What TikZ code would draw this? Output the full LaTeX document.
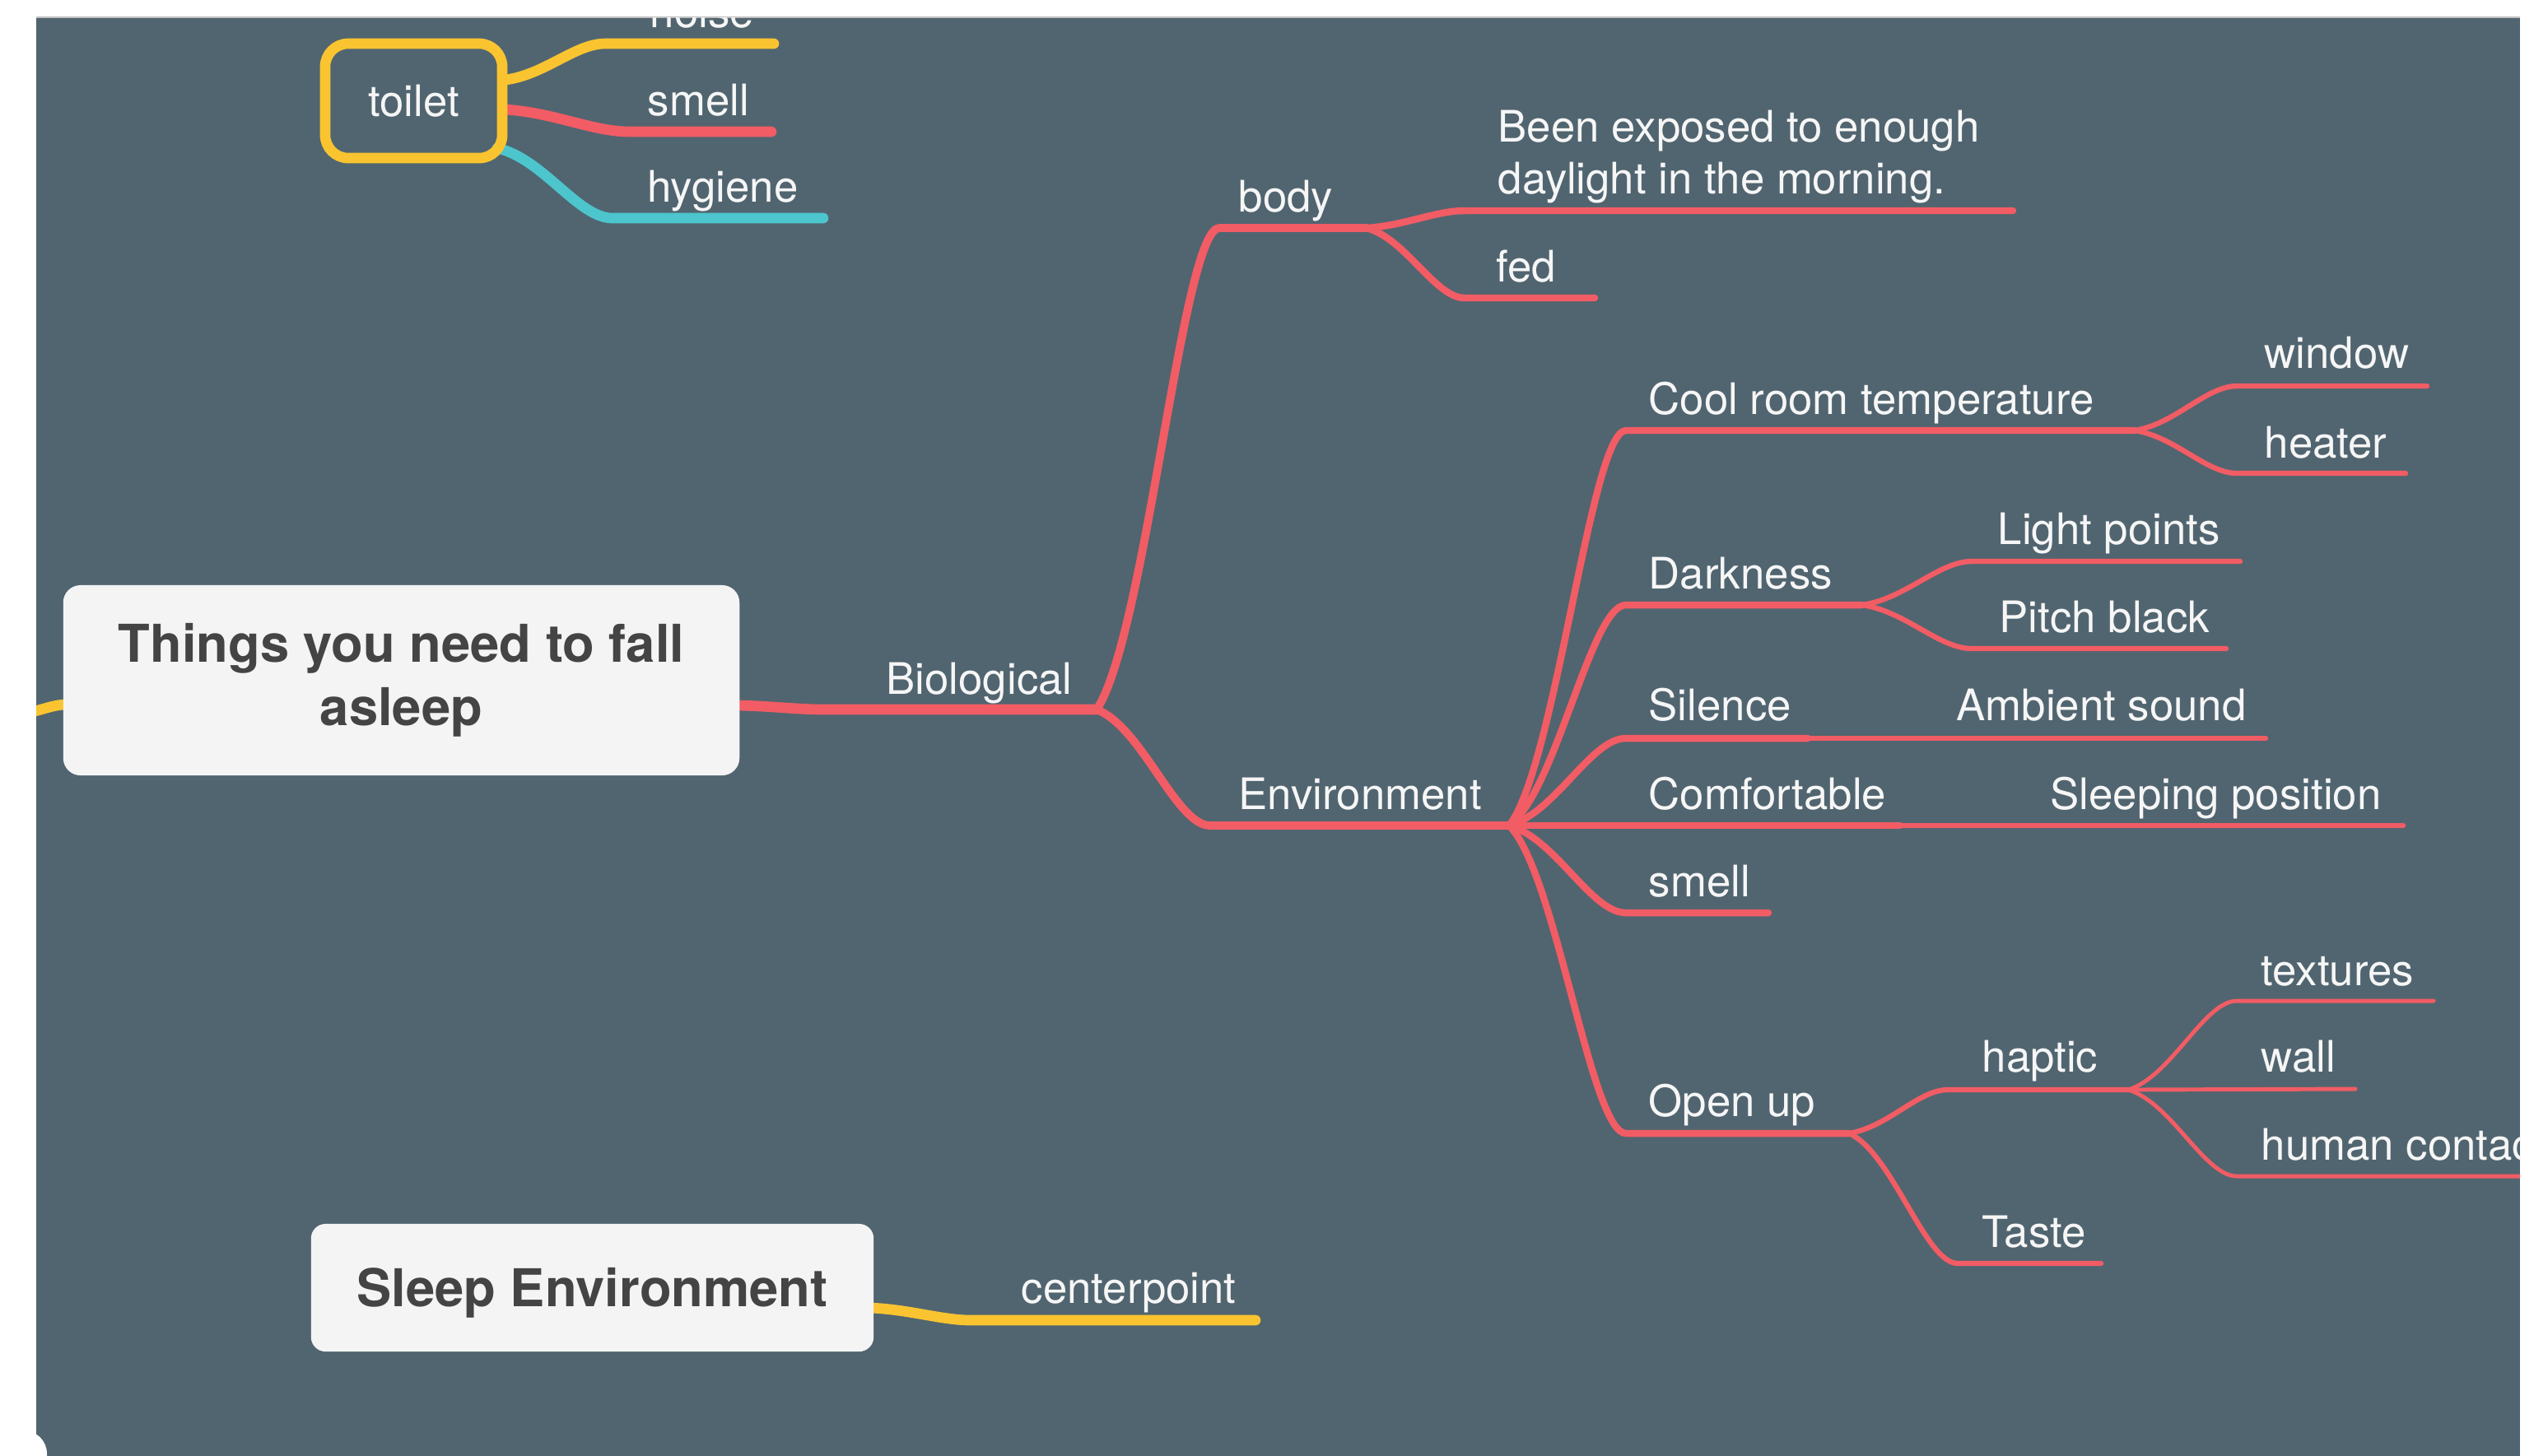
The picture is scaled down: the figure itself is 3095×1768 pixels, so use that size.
\documentclass[tikz,border=0pt]{standalone}
\usepackage{fontspec}
\setmainfont{TeX Gyre Heros}
\usetikzlibrary{calc}
\definecolor{bg}{RGB}{81,101,112}
\definecolor{mmred}{RGB}{242,92,100}
\definecolor{mmyellow}{RGB}{249,196,48}
\definecolor{mmcyan}{RGB}{76,197,205}
\definecolor{boxfill}{RGB}{244,244,244}
\definecolor{darktext}{RGB}{68,68,68}
\definecolor{lighttext}{RGB}{246,246,246}
\begin{document}
\begin{tikzpicture}[x=0.01cm,y=-0.01cm,
  lbl/.style={anchor=base west,inner sep=0pt,text=lighttext,font=\fontsize{15pt}{18pt}\selectfont},
  topic/.style={fill=boxfill,text=darktext,inner sep=0pt,font=\fontsize{18pt}{22pt}\selectfont\bfseries,align=center},
  lvA/.style={line width=3.6pt,line cap=round,line join=round},
  lvB/.style={line width=2.8pt,line cap=round,line join=round},
  lvC/.style={line width=2.4pt,line cap=round,line join=round},
  lvD/.style={line width=1.8pt,line cap=round,line join=round},
  lvE/.style={line width=1.4pt,line cap=round,line join=round},
  curvy/.style={to path={let \p1=(\tikztostart),\p2=(\tikztotarget) in .. controls ({\x1+0.4*(\x2-\x1)},{\y1+0.15*(\y2-\y1)}) and ({\x2-0.3*(\x2-\x1)},\y2) .. (\tikztotarget) \tikztonodes}}
]
\useasboundingbox (0,0) rectangle (3095,1768);
\fill[white] (0,-20) rectangle (3120,1800);
\fill[bg] (44,21) rectangle (3061,1800);
\draw[black!25,line width=0.8pt] (44,21) -- (3061,21);
\begin{scope}
\clip (44,21) rectangle (3061,1800);
% ---------- coordinates ----------
\coordinate (stubL) at (20,868);
\coordinate (mainIn) at (80,856);
\coordinate (mainOut) at (895,857);
\coordinate (bioH) at (1000,862);
\coordinate (bioJ) at (1332,862);
\coordinate (bodyH) at (1481,277);
\coordinate (bodyJ) at (1660,277);
\coordinate (dayH) at (1779,256);
\coordinate (dayE) at (2445,256);
\coordinate (fedH) at (1779,362);
\coordinate (fedE) at (1937,362);
\coordinate (envH) at (1470,1003);
\coordinate (envJ) at (1833,1003);
\coordinate (coolH) at (1975,523);
\coordinate (coolJ) at (2593,523);
\coordinate (winH) at (2717,469);
\coordinate (winE) at (2948,469);
\coordinate (heatH) at (2717,575);
\coordinate (heatE) at (2922,575);
\coordinate (darkH) at (1975,735);
\coordinate (darkJ) at (2262,735);
\coordinate (lightH) at (2395,682);
\coordinate (lightE) at (2721,682);
\coordinate (pitchH) at (2395,788);
\coordinate (pitchE) at (2704,788);
\coordinate (silH) at (1975,897);
\coordinate (silJ) at (2196,897);
\coordinate (ambE) at (2752,897);
\coordinate (comJ) at (2308,1003);
\coordinate (comE) at (2919,1003);
\coordinate (smellH) at (1975,1109);
\coordinate (smellE) at (2148,1109);
\coordinate (openH) at (1975,1377);
\coordinate (openJ) at (2246,1377);
\coordinate (hapH) at (2366,1324);
\coordinate (hapJ) at (2585,1324);
\coordinate (tasteH) at (2378,1535);
\coordinate (tasteE) at (2552,1535);
\coordinate (texH) at (2717,1216);
\coordinate (texE) at (2956,1216);
\coordinate (wallE) at (2861,1323);
\coordinate (humH) at (2717,1429);
\coordinate (humE) at (3120,1429);
\coordinate (tOutA) at (614,97);
\coordinate (noiseH) at (735,53);
\coordinate (noiseE) at (940,53);
\coordinate (tOutB) at (614,133);
\coordinate (smellTH) at (765,160);
\coordinate (smellTE) at (937,160);
\coordinate (tOutC) at (604,180);
\coordinate (hygH) at (744,265);
\coordinate (hygE) at (1000,265);
\coordinate (sleepOut) at (1058,1589);
\coordinate (cpH) at (1180,1604);
\coordinate (cpE) at (1525,1604);
% ---------- connectors ----------
\draw[lvA,mmyellow] (stubL) to[curvy] (mainIn);
\draw[lvA,mmred] (mainOut) to[curvy] (bioH) -- (bioJ);
\draw[lvB,mmred] (bioJ) to[curvy] (bodyH) -- (bodyJ);
\draw[lvB,mmred] (bioJ) to[curvy] (envH) -- (envJ);
\draw[lvC,mmred] (bodyJ) to[curvy] (dayH) -- (dayE);
\draw[lvC,mmred] (bodyJ) to[curvy] (fedH) -- (fedE);
\draw[lvC,mmred] (envJ) to[curvy] (coolH) -- (coolJ);
\draw[lvC,mmred] (envJ) to[curvy] (darkH) -- (darkJ);
\draw[lvC,mmred] (envJ) to[curvy] (silH) -- (silJ);
\draw[lvC,mmred] (envJ) -- (comJ);
\draw[lvC,mmred] (envJ) to[curvy] (smellH) -- (smellE);
\draw[lvC,mmred] (envJ) to[curvy] (openH) -- (openJ);
\draw[lvD,mmred] (coolJ) to[curvy] (winH) -- (winE);
\draw[lvD,mmred] (coolJ) to[curvy] (heatH) -- (heatE);
\draw[lvD,mmred] (darkJ) to[curvy] (lightH) -- (lightE);
\draw[lvD,mmred] (darkJ) to[curvy] (pitchH) -- (pitchE);
\draw[lvD,mmred] (silJ) -- (ambE);
\draw[lvD,mmred] (comJ) -- (comE);
\draw[lvD,mmred] (openJ) to[curvy] (hapH) -- (hapJ);
\draw[lvD,mmred] (openJ) to[curvy] (tasteH) -- (tasteE);
\draw[lvE,mmred] (hapJ) to[curvy] (texH) -- (texE);
\draw[lvE,mmred] (hapJ) -- (wallE);
\draw[lvE,mmred] (hapJ) to[curvy] (humH) -- (humE);
\draw[lvA,mmyellow] (tOutA) to[curvy] (noiseH) -- (noiseE);
\draw[lvA,mmred] (tOutB) to[curvy] (smellTH) -- (smellTE);
\draw[lvA,mmcyan] (tOutC) to[curvy] (hygH) -- (hygE);
\draw[lvA,mmyellow] (sleepOut) to[curvy] (cpH) -- (cpE);
% ---------- topic boxes ----------
\node[topic,rounded corners=6pt,minimum width=8.21cm,minimum height=2.31cm] (things) at (487.5,826.5) {Things you need to fall\\asleep};
\node[topic,rounded corners=5pt,minimum width=6.83cm,minimum height=1.55cm,text height=0.5cm,text depth=0.05cm] (sleepenv) at (719.5,1564.5) {Sleep Environment};
\node[draw=mmyellow,line width=3.6pt,rounded corners=8pt,minimum width=2.15cm,minimum height=1.39cm,inner sep=0pt,text=lighttext,font=\fontsize{15pt}{18pt}\selectfont] (toilet) at (502.5,122.5) {toilet};
% ---------- labels ----------
\node[lbl] (noise) at (789,33) {noise};
\node[lbl] (smellT) at (786,140) {smell};
\node[lbl] (hygiene) at (786,245) {hygiene};
\node[lbl] (bio) at (1076,843) {Biological};
\node[lbl] (body) at (1504,257) {body};
\node[lbl] (day1) at (1819,172) {Been exposed to enough};
\node[lbl] (day2) at (1819,235) {daylight in the morning.};
\node[lbl] (fed) at (1817,342) {fed};
\node[lbl] (env) at (1504,983) {Environment};
\node[lbl] (cool) at (2002,503) {Cool room temperature};
\node[lbl] (window) at (2750,447) {window};
\node[lbl] (heater) at (2750,556) {heater};
\node[lbl] (dark) at (2002,715) {Darkness};
\node[lbl] (light) at (2426,661) {Light points};
\node[lbl] (pitch) at (2428,768) {Pitch black};
\node[lbl] (silence) at (2002,875) {Silence};
\node[lbl] (ambient) at (2376,875) {Ambient sound};
\node[lbl] (comfort) at (2002,983) {Comfortable};
\node[lbl] (sleeppos) at (2490,983) {Sleeping position};
\node[lbl] (smellEnv) at (2002,1089) {smell};
\node[lbl] (openup) at (2002,1356) {Open up};
\node[lbl] (haptic) at (2407,1302) {haptic};
\node[lbl] (taste) at (2407,1515) {Taste};
\node[lbl] (textures) at (2746,1197) {textures};
\node[lbl] (wall) at (2746,1302) {wall};
\node[lbl] (human) at (2746,1409) {human contact};
\node[lbl] (centerpoint) at (1240,1583) {centerpoint};
\end{scope}
\fill[white,rounded corners=8pt] (-40,1738) rectangle (57,1840);
\end{tikzpicture}
\end{document}
